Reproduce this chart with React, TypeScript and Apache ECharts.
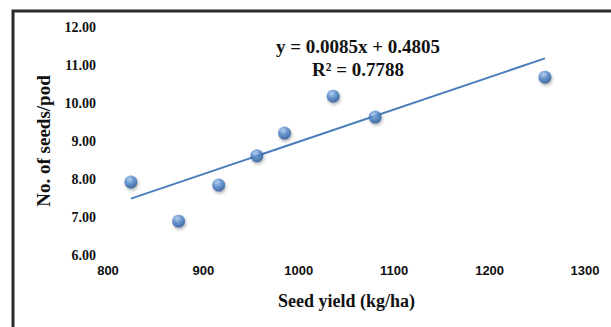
import React, { useEffect, useRef } from "react";
import * as echarts from "echarts";

const seedYield = [824, 874, 916, 956, 985, 1036, 1080, 1258];
const seedsPerPod = [7.92, 6.89, 7.84, 8.61, 9.21, 10.18, 9.63, 10.68];
const trendCoef = [0.0085, 0.4805];
const equationLines = ["y = 0.0085x + 0.4805", "R² = 0.7788"];
const xTicks = { min: 800, max: 1300, interval: 100 };
const yTicks = { min: 6, max: 12, interval: 1 };

export default function App() {
  const ref = useRef<HTMLDivElement>(null);
  useEffect(() => {
    if (!ref.current) return;
    const chart = echarts.init(ref.current, null, { renderer: "svg" });
    const xs = [Math.min(...seedYield), Math.max(...seedYield)];
    const trend = xs.map((x) => [x, trendCoef[0] * x + trendCoef[1]]);
    chart.setOption({
      animation: false,
      backgroundColor: "#ffffff",
      grid: { left: 108, right: 26, top: 27, bottom: 72 },
      xAxis: {
        type: "value",
        min: xTicks.min,
        max: xTicks.max,
        interval: xTicks.interval,
        axisLine: { show: false },
        axisTick: { show: false },
        splitLine: { show: false },
        axisLabel: {
          margin: 9,
          formatter: (v: number) => String(v),
          fontFamily: "Liberation Sans",
          fontWeight: "bold",
          fontSize: 13,
          color: "#111",
        },
        name: "Seed yield (kg/ha)",
        nameLocation: "middle",
        nameGap: 37,
        nameTextStyle: {
          fontFamily: "Liberation Serif",
          fontWeight: "bold",
          fontSize: 18,
          color: "#111",
        },
      },
      yAxis: {
        type: "value",
        min: yTicks.min,
        max: yTicks.max,
        interval: yTicks.interval,
        axisLine: { show: false },
        axisTick: { show: false },
        splitLine: { show: false },
        axisLabel: {
          margin: 12,
          formatter: (v: number) => v.toFixed(2),
          fontFamily: "Liberation Serif",
          fontWeight: "bold",
          fontSize: 14,
          color: "#111",
        },
        name: "No. of seeds/pod",
        nameLocation: "middle",
        nameGap: 55,
        nameTextStyle: {
          fontFamily: "Liberation Serif",
          fontWeight: "bold",
          fontSize: 19,
          color: "#111",
        },
      },
      graphic: [
        {
          type: "rect",
          shape: { x: 13, y: 11, width: 640, height: 360 },
          style: { fill: "none", stroke: "#2b2b2b", lineWidth: 3 },
          silent: true,
        },
        {
          type: "text",
          x: 358,
          y: 46,
          style: {
            text: equationLines[0],
            fontFamily: "Liberation Serif",
            fontWeight: "bold",
            fontSize: 19,
            fill: "#111",
            align: "center",
            verticalAlign: "middle",
          },
        },
        {
          type: "text",
          x: 358,
          y: 69,
          style: {
            text: equationLines[1],
            fontFamily: "Liberation Serif",
            fontWeight: "bold",
            fontSize: 19,
            fill: "#111",
            align: "center",
            verticalAlign: "middle",
          },
        },
      ],
      series: [
        {
          type: "line",
          data: trend,
          showSymbol: false,
          symbol: "none",
          lineStyle: { color: "#4a7ebb", width: 2 },
          z: 1,
        },
        {
          type: "scatter",
          data: seedYield.map((x, i) => [x, seedsPerPod[i]]),
          symbolSize: 13,
          itemStyle: {
            color: new echarts.graphic.RadialGradient(0.4, 0.3, 0.75, [
              { offset: 0, color: "#a9c8ee" },
              { offset: 0.45, color: "#4f86c9" },
              { offset: 1, color: "#1f4f8f" },
            ]),
            shadowBlur: 3,
            shadowOffsetX: 1,
            shadowOffsetY: 2,
            shadowColor: "rgba(0,0,0,0.35)",
          },
          z: 2,
        },
      ],
    });
    return () => chart.dispose();
  }, []);
  return (
    <div
      ref={ref}
      style={{ position: "fixed", left: 0, top: 0, width: 611, height: 327 }}
    />
  );
}
